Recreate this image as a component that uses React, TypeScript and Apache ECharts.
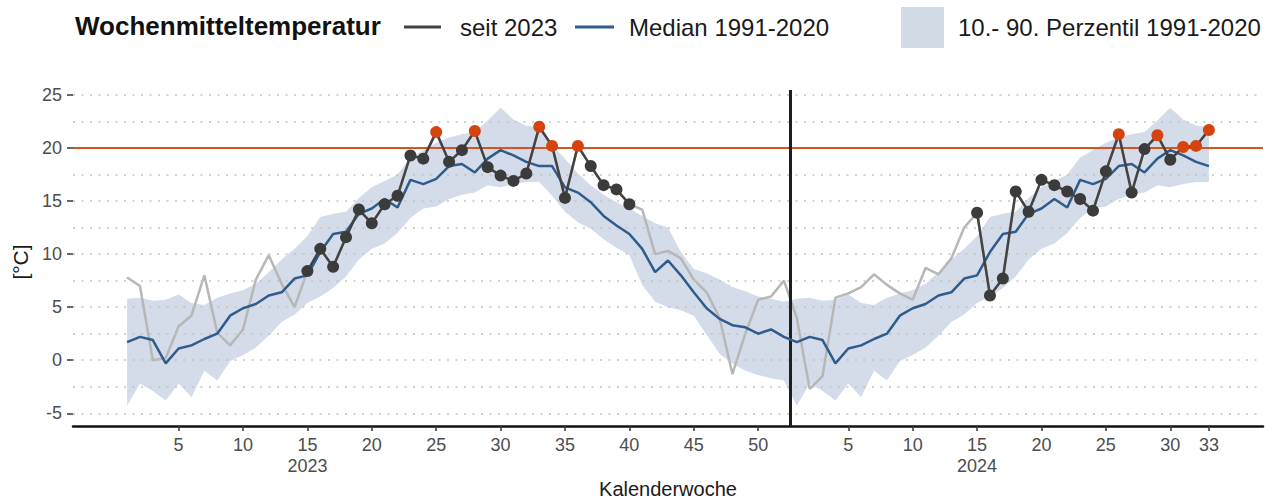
import React, { useEffect, useRef } from "react";
import * as echarts from "echarts";

// ---- data (weekly mean temperature, °C) ----
const WEEKS_2023 = 52;
const HILITE_START = 15;
const HILITE_END_2023 = 40;
const THRESHOLD = 20;

// climatology 1991-2020 per calendar week 1..52
const median = [
  1.7, 2.2, 1.9, -0.3, 1.1, 1.4, 2.0, 2.5, 4.2, 4.9, 5.3, 6.1, 6.4, 7.7, 8.0, 10.2, 11.9, 12.1, 13.8, 14.3,
  15.2, 14.4, 17.0, 16.6, 17.1, 18.3, 18.5, 17.7, 19.0, 19.8, 19.3, 18.7, 18.3, 18.3, 16.3, 15.8, 14.9, 13.6, 12.7, 11.9,
  10.5, 8.3, 9.4, 8.0, 6.4, 4.9, 3.9, 3.3, 3.1, 2.5, 2.9, 2.2,
];
const p10 = [
  -4.3, -2.2, -2.9, -3.8, -2.2, -3.5, -1.0, -1.9, -0.1, 0.5, 1.2, 2.3, 3.6, 4.3, 5.4, 6.0, 6.8, 7.9, 9.5, 10.5,
  11.0, 12.0, 13.4, 14.3, 14.5, 15.2, 15.6, 15.8, 16.5, 16.3, 16.6, 16.8, 16.8, 15.5, 14.0, 13.0, 12.4, 11.4, 10.6, 9.9,
  7.1, 5.5, 5.0, 4.7, 4.2, 2.4, 0.6, -0.3, -1.0, -1.4, -1.7, -1.9,
];
const p90 = [
  5.8, 5.9, 5.6, 5.7, 6.2, 5.4, 5.2, 5.9, 6.3, 6.6, 7.2, 8.3, 9.5, 10.5, 11.7, 13.5, 13.8, 14.0, 15.3, 16.3,
  16.9, 17.5, 19.1, 19.8, 20.5, 21.0, 21.3, 21.5, 22.6, 23.8, 22.7, 22.1, 22.0, 20.3, 19.0, 17.6, 16.5, 15.6, 14.9, 14.3,
  13.6, 12.9, 12.5, 10.2, 8.6, 8.2, 7.6, 6.9, 6.5, 6.0, 5.8, 5.5,
];
// observed weekly means
const obs2023 = [
  7.8, 7.0, 0.0, 0.2, 3.2, 4.2, 8.0, 2.6, 1.4, 2.9, 7.6, 9.9, 7.2, 5.0, 8.4, 10.5, 8.8, 11.6, 14.2, 12.9,
  14.7, 15.5, 19.3, 19.0, 21.5, 18.7, 19.8, 21.6, 18.2, 17.4, 16.9, 17.6, 22.0, 20.2, 15.3, 20.2, 18.3, 16.5, 16.1, 14.7,
  14.2, 10.0, 10.3, 9.6, 7.6, 6.4, 4.0, -1.3, 2.5, 5.7, 6.0, 7.5,
];
const obs2024 = [
  4.0, -2.7, -1.5, 5.9, 6.3, 6.9, 8.1, 7.1, 6.3, 5.7, 8.7, 8.1, 9.6, 12.5, 13.9, 6.1, 7.7, 15.9, 14.0, 17.0,
  16.5, 15.9, 15.2, 14.1, 17.8, 21.3, 15.8, 19.9, 21.2, 18.9, 20.1, 20.2, 21.7,
];
const tickWeeks2023 = [5, 10, 15, 20, 25, 30, 35, 40, 45, 50];
const tickWeeks2024 = [5, 10, 15, 20, 25, 30, 33];
const yearLabelWeek = 15;
const years = ["2023", "2024"];
const yTicks = [-5, 0, 5, 10, 15, 20, 25];
const gridLevels = [-5, -2.5, 0, 2.5, 5, 7.5, 10, 12.5, 15, 17.5, 20, 22.5, 25];

// ---- styles ----
const FONT = "'Liberation Sans', Arial, sans-serif";
const C_BAND = "rgba(150,172,200,0.42)";
const C_BAND_KEY = "#d3dce6";
const C_GRAY = "#b7b7b7";
const C_MEDIAN = "#2f5c8c";
const C_DARK = "#434343";
const C_DOT = "#3b3b3b";
const C_HOT = "#d5440f";
const C_RED = "#d9531f";

export default function App() {
  const ref = useRef<HTMLDivElement>(null);

  useEffect(() => {
    if (!ref.current) return;
    const chart = echarts.init(ref.current, undefined, { renderer: "svg" });

    const clim: [number, number][] = [];
    for (let w = 1; w <= WEEKS_2023; w++) clim.push([w, w]);
    for (let w = 1; w <= obs2024.length; w++) clim.push([WEEKS_2023 + w, w]);

    const upper = clim.map(([x, w]) => [x, p90[w - 1]]);
    const lower = clim.map(([x, w]) => [x, p10[w - 1]]);
    const medData = clim.map(([x, w]) => [x, median[w - 1]]);

    const obsAll = [
      ...obs2023.map((v, i) => [i + 1, v]),
      ...obs2024.map((v, i) => [WEEKS_2023 + i + 1, v]),
    ];

    const dot = (x: number, v: number) => ({
      value: [x, v],
      itemStyle: { color: v > THRESHOLD ? C_HOT : C_DOT },
    });
    const dark2023 = obs2023
      .map((v, i) => ({ w: i + 1, v }))
      .filter((d) => d.w >= HILITE_START && d.w <= HILITE_END_2023)
      .map((d) => dot(d.w, d.v));
    const dark2024 = obs2024
      .map((v, i) => ({ w: i + 1, v }))
      .filter((d) => d.w >= HILITE_START)
      .map((d) => dot(WEEKS_2023 + d.w, d.v));

    const xTicks = [...tickWeeks2023, ...tickWeeks2024.map((w) => WEEKS_2023 + w)];

    const darkSeries = (name: string, data: any[]) => ({
      name,
      type: "line",
      data,
      z: 6,
      symbol: "circle",
      symbolSize: 12,
      lineStyle: { color: C_DARK, width: 2.5 },
      silent: true,
    });

    chart.setOption({
      animation: false,
      textStyle: { fontFamily: FONT },
      grid: { left: 73, right: 12, top: 90, bottom: 74, containLabel: false },
      xAxis: {
        type: "value",
        min: -3.2,
        max: 89.2,
        axisLine: { show: true, onZero: false, lineStyle: { color: "#111", width: 2.5 } },
        axisTick: {
          show: true,
          customValues: xTicks,
          length: 5,
          lineStyle: { color: "#333", width: 1.5 },
        },
        axisLabel: {
          customValues: xTicks,
          fontSize: 18,
          color: "#4d4d4d",
          lineHeight: 21,
          margin: 8,
          fontFamily: FONT,
          formatter: (v: number) => {
            const inFirst = v <= WEEKS_2023;
            const w = inFirst ? v : v - WEEKS_2023;
            let s = String(Math.round(w));
            if (Math.round(w) === yearLabelWeek) s += "\n" + (inFirst ? years[0] : years[1]);
            return s;
          },
        },
        splitLine: { show: false },
      },
      yAxis: {
        type: "value",
        min: -6.2,
        max: 25.47,
        axisLine: { show: false, onZero: false },
        axisTick: {
          show: true,
          customValues: yTicks,
          length: 6,
          lineStyle: { color: "#333", width: 1.5 },
        },
        axisLabel: {
          customValues: yTicks,
          fontSize: 18,
          color: "#4d4d4d",
          margin: 11,
          fontFamily: FONT,
        },
        splitLine: { show: false },
      },
      series: [
        {
          name: "grid",
          type: "line",
          data: [[-10, -10]],
          symbol: "none",
          z: 0,
          silent: true,
          markLine: {
            silent: true,
            symbol: ["none", "none"],
            label: { show: false },
            lineStyle: { color: "#c4c4c4", width: 1.6, type: [2, 6.5] },
            data: gridLevels.map((g) => ({ yAxis: g })),
          },
        },
        {
          name: "10.- 90. Perzentil 1991-2020",
          type: "custom",
          data: [0],
          z: 2,
          silent: true,
          renderItem: (params: any, api: any) => {
            const pts = [
              ...upper.map((p) => api.coord(p)),
              ...lower
                .slice()
                .reverse()
                .map((p) => api.coord(p)),
            ];
            return {
              type: "polygon",
              shape: { points: pts },
              style: { fill: C_BAND },
            };
          },
        },
        {
          name: "refs",
          type: "line",
          data: [[-10, -10]],
          symbol: "none",
          z: 3,
          silent: true,
          markLine: {
            silent: true,
            symbol: ["none", "none"],
            label: { show: false },
            data: [
              { yAxis: THRESHOLD, lineStyle: { color: C_RED, width: 2.2, type: "solid" } },
              { xAxis: WEEKS_2023 + 0.5, lineStyle: { color: "#1e1e1e", width: 3, type: "solid" } },
            ],
          },
        },
        {
          name: "gesamt",
          type: "line",
          data: obsAll,
          symbol: "none",
          z: 4,
          lineStyle: { color: C_GRAY, width: 2.5 },
          silent: true,
        },
        {
          name: "Median 1991-2020",
          type: "line",
          data: medData,
          symbol: "none",
          z: 5,
          lineStyle: { color: C_MEDIAN, width: 2.5 },
          silent: true,
        },
        darkSeries("seit 2023", dark2023),
        darkSeries("seit 2023 (2024)", dark2024),
      ],
      graphic: [
        {
          type: "text",
          left: 75,
          top: 13,
          style: { text: "Wochenmitteltemperatur", font: `bold 26px ${FONT}`, fill: "#111" },
        },
        {
          type: "line",
          shape: { x1: 404, y1: 27, x2: 441, y2: 27 },
          style: { stroke: C_DARK, lineWidth: 3 },
        },
        {
          type: "text",
          left: 460,
          top: 15,
          style: { text: "seit 2023", font: `24px ${FONT}`, fill: "#1a1a1a" },
        },
        {
          type: "line",
          shape: { x1: 575, y1: 27, x2: 614, y2: 27 },
          style: { stroke: C_MEDIAN, lineWidth: 3 },
        },
        {
          type: "text",
          left: 629,
          top: 15,
          style: { text: "Median 1991-2020", font: `24px ${FONT}`, fill: "#1a1a1a" },
        },
        {
          type: "rect",
          shape: { x: 901, y: 7, width: 43, height: 41 },
          style: { fill: C_BAND_KEY },
        },
        {
          type: "text",
          left: 958,
          top: 15,
          style: { text: "10.- 90. Perzentil 1991-2020", font: `24px ${FONT}`, fill: "#1a1a1a" },
        },
        {
          type: "text",
          x: 20,
          y: 262,
          rotation: Math.PI / 2,
          style: {
            text: "[°C]",
            font: `21px ${FONT}`,
            fill: "#1a1a1a",
            align: "center",
            verticalAlign: "middle",
          },
        },
        {
          type: "text",
          x: 668,
          y: 489,
          style: {
            text: "Kalenderwoche",
            font: `20px ${FONT}`,
            fill: "#1a1a1a",
            align: "center",
            verticalAlign: "middle",
          },
        },
      ],
    });

    return () => chart.dispose();
  }, []);

  return (
    <div
      ref={ref}
      style={{ position: "absolute", left: 0, top: 0, width: 1275, height: 500, background: "#fff" }}
    />
  );
}
